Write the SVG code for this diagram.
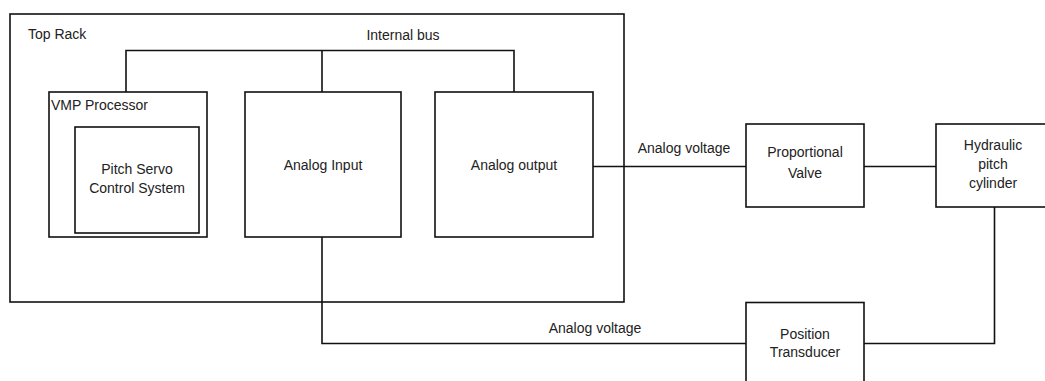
<svg xmlns="http://www.w3.org/2000/svg" width="1045" height="381" viewBox="0 0 1045 381">
<style>
.box{fill:#fff;stroke:#111;stroke-width:1.6}
.ln{fill:none;stroke:#111;stroke-width:1.6}
text{font-family:"Liberation Sans",Arial,sans-serif;font-size:14px;fill:#222}
.c{text-anchor:middle}
</style>
<rect width="1045" height="381" fill="#fff"/>
<g id="top-rack">
<rect class="box" x="10" y="14" width="614" height="288"/>
<text x="28" y="39">Top Rack</text>
</g>
<g id="connectors">
<path class="ln" d="M126 92 V50.5 H514 V92 M322 50.5 V92"/>
<path class="ln" d="M593 166.5 H746"/>
<path class="ln" d="M864 166.5 H936"/>
<path class="ln" d="M322 237 V343.5 H746"/>
<path class="ln" d="M864 343.5 H994.5 V207"/>
<text class="c" x="403" y="40">Internal bus</text>
<text class="c" x="684" y="153">Analog voltage</text>
<text class="c" x="595" y="333">Analog voltage</text>
</g>
<g id="vmp-processor">
<rect class="box" x="49" y="92" width="158" height="145"/>
<text x="51" y="110">VMP Processor</text>
</g>
<g id="pitch-servo">
<rect class="box" x="75" y="127" width="124" height="106"/>
<text class="c" x="137" y="174">Pitch Servo</text>
<text class="c" x="137" y="193">Control System</text>
</g>
<g id="analog-input">
<rect class="box" x="245" y="92" width="156" height="145"/>
<text class="c" x="323" y="170">Analog Input</text>
</g>
<g id="analog-output">
<rect class="box" x="435" y="92" width="158" height="145"/>
<text class="c" x="514" y="170">Analog output</text>
</g>
<g id="proportional-valve">
<rect class="box" x="746" y="124" width="118" height="83"/>
<text class="c" x="805" y="157">Proportional</text>
<text class="c" x="805" y="178">Valve</text>
</g>
<g id="hydraulic-cylinder">
<rect class="box" x="936" y="124" width="118" height="83"/>
<text class="c" x="993" y="150">Hydraulic</text>
<text class="c" x="993" y="169">pitch</text>
<text class="c" x="993" y="188">cylinder</text>
</g>
<g id="position-transducer">
<rect class="box" x="746" y="302.5" width="118" height="90"/>
<text class="c" x="805" y="339">Position</text>
<text class="c" x="805" y="357">Transducer</text>
</g>
</svg>
